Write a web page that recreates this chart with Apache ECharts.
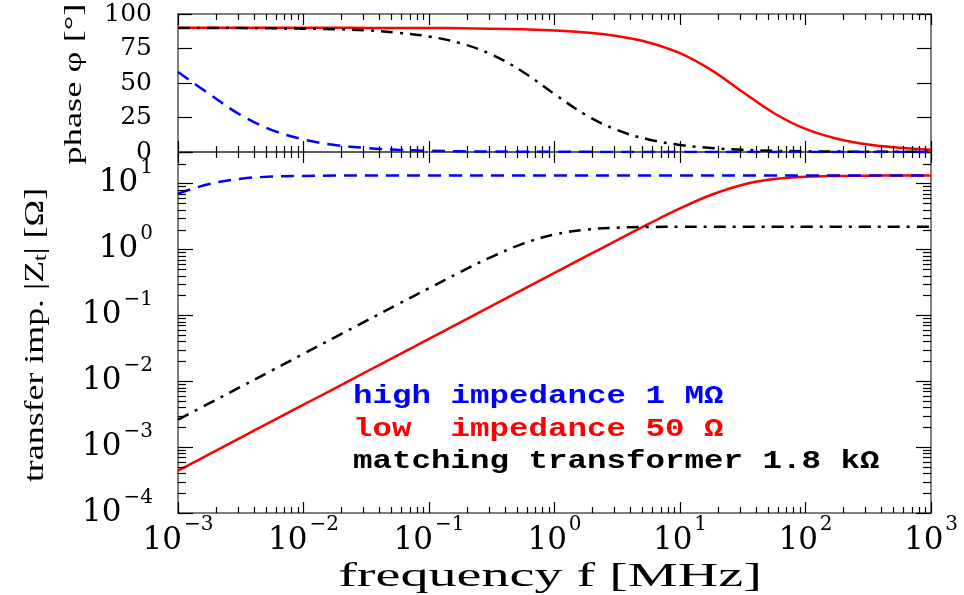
<!DOCTYPE html>
<html>
<head>
<meta charset="utf-8">
<script src="https://cdn.jsdelivr.net/npm/echarts@6/dist/echarts.min.js"></script>
<style>
  html, body { margin: 0; padding: 0; background: #fff; }
  #main { width: 964px; height: 595px; }
</style>
</head>
<body>
<div id="main"></div>
<script>
// frequency samples [MHz], quarter decades
var freq = [0.001, 0.00178, 0.00316, 0.00562, 0.01, 0.0178, 0.0316, 0.0562, 0.1, 0.178, 0.316, 0.562,
            1, 1.78, 3.16, 5.62, 10, 17.8, 31.6, 56.2, 100, 178, 316, 562, 1000];

// phase [deg]
var phaseHigh  = [58.0, 42.0, 26.8, 15.9, 9.1, 5.1, 2.9, 1.6, 0.9, 0.5, 0.3, 0.2, 0.1, 0.1, 0, 0, 0, 0, 0, 0, 0, 0, 0, 0, 0];
var phaseLow   = [90.0, 90.0, 90.0, 90.0, 90.0, 90.0, 89.9, 89.9, 89.8, 89.7, 89.4, 88.9, 88.1, 86.6, 84.0, 79.4,
                  71.6, 59.3, 43.5, 28.1, 16.7, 9.6, 5.4, 3.1, 1.7];
var phaseMatch = [89.9, 89.9, 89.8, 89.6, 89.4, 89.0, 88.2, 86.4, 83.7, 78.8, 70.6, 58.0, 42.0, 26.8, 15.9, 9.1,
                  5.1, 2.9, 1.6, 0.9, 0.5, 0.3, 0.2, 0.1, 0.1];

// transfer impedance |Zt| [Ohm]
var magHigh  = [7.0, 9.8, 11.8, 12.7, 13.0, 13.15, 13.2, 13.2, 13.2, 13.2, 13.2, 13.2, 13.2, 13.2, 13.2, 13.2,
                13.2, 13.2, 13.2, 13.2, 13.2, 13.2, 13.2, 13.2, 13.2];
var magLow   = [0.00044, 0.00078, 0.00139, 0.00247, 0.0044, 0.0078, 0.0139, 0.0247, 0.044, 0.078, 0.139, 0.247,
                0.44, 0.78, 1.38, 2.43, 4.17, 6.73, 9.58, 11.65, 12.64, 13.02, 13.14, 13.18, 13.19];
var magMatch = [0.0026, 0.00463, 0.00822, 0.0146, 0.026, 0.0463, 0.0822, 0.146, 0.258, 0.453, 0.77, 1.22,
                1.68, 1.99, 2.13, 2.185, 2.2, 2.21, 2.21, 2.21, 2.21, 2.21, 2.21, 2.21, 2.21];

var phaseTicks = [0, 25, 50, 75, 100];

var legendLines = ['high impedance 1 MΩ', 'low  impedance 50 Ω', 'matching transformer 1.8 kΩ'];

function pairs(ys) {
    return freq.map(function (f, i) { return [f, ys[i]]; });
}

var SERIF = 'DejaVu Serif';
var frameColor = '#555';
var tickColor = '#000';

function powLabel(v) {
    var e = Math.log10(v);
    var r = Math.round(e);
    if (Math.abs(e - r) > 1e-6) return '';
    return '{b|10}{s|' + String(r).replace('-', '\u2212') + '}';
}
var powRich = {
    b: { fontFamily: SERIF, fontSize: 31, color: '#000', padding: [10, 0, 10, 0] },
    s: { fontFamily: SERIF, fontSize: 20, color: '#000', verticalAlign: 'top', padding: [0, 0, 0, 2] }
};

// minor log ticks (2..9 per decade)
function minorValues(d0, d1, maxV) {
    var out = [];
    for (var d = d0; d < d1; d++) {
        for (var m = 2; m <= 9; m++) {
            var v = m * Math.pow(10, d);
            if (v < maxV) out.push(v);
        }
    }
    return out;
}
var xMinor = minorValues(-3, 3, 1000);
var yMinor = minorValues(-4, 2, 30);

function tickRenderer(yRef, withY) {
    return function (params, api) {
        var cs = params.coordSys;
        var kids = [];
        var st = { stroke: tickColor, lineWidth: 1.2 };
        xMinor.forEach(function (v) {
            var px = Math.round(api.coord([v, yRef])[0]) + 0.5;
            kids.push({ type: 'line', shape: { x1: px, y1: cs.y, x2: px, y2: cs.y + 6 }, style: st });
            kids.push({ type: 'line', shape: { x1: px, y1: cs.y + cs.height, x2: px, y2: cs.y + cs.height - 6 }, style: st });
        });
        if (withY) {
            yMinor.forEach(function (v) {
                var py = Math.round(api.coord([1, v])[1]) + 0.5;
                kids.push({ type: 'line', shape: { x1: cs.x, y1: py, x2: cs.x + 8, y2: py }, style: st });
                kids.push({ type: 'line', shape: { x1: cs.x + cs.width, y1: py, x2: cs.x + cs.width - 8, y2: py }, style: st });
            });
        }
        return { type: 'group', children: kids };
    };
}

function xAxisDef(grid, pos, labels) {
    return {
        type: 'log', logBase: 10, gridIndex: grid, position: pos,
        min: 0.001, max: 1000, splitNumber: 6,
        axisLine: { show: true, onZero: false, lineStyle: { color: frameColor, width: 1.5 } },
        axisTick: { show: true, inside: true, length: 11, lineStyle: { color: tickColor, width: 1.2 } },
        axisLabel: labels ? { show: true, formatter: powLabel, rich: powRich, margin: 2 } : { show: false },
        splitLine: { show: false }
    };
}

function yAxisDef(grid, pos, isLog, labels) {
    var a = {
        type: isLog ? 'log' : 'value', gridIndex: grid, position: pos,
        axisLine: { show: true, lineStyle: { color: frameColor, width: 1.5 } },
        axisTick: { show: true, inside: true, length: isLog ? 15 : 14, lineStyle: { color: tickColor, width: 1.2 } },
        axisLabel: { show: false },
        splitLine: { show: false }
    };
    if (isLog) {
        a.logBase = 10; a.min = 0.0001; a.max = 30; a.splitNumber = 5;
        if (labels) a.axisLabel = { margin: 25, formatter: powLabel, rich: powRich };
    } else {
        a.min = 0; a.max = 100; a.interval = 25;
        if (labels) a.axisLabel = {
            margin: 26, fontFamily: SERIF, fontSize: 25, color: '#000',
            formatter: function (v) { return phaseTicks.indexOf(v) >= 0 ? String(v) : ''; }
        };
    }
    return a;
}

var myChart = echarts.init(document.getElementById('main'));
var option = {
    animation: false,
    backgroundColor: '#fff',
    grid: [
        { left: 178, right: 33, top: 14, height: 138 },
        { left: 178, right: 33, top: 152, height: 361 }
    ],
    xAxis: [
        xAxisDef(0, 'bottom', false),
        xAxisDef(0, 'top', false),
        xAxisDef(1, 'bottom', true),
        xAxisDef(1, 'top', false)
    ],
    yAxis: [
        yAxisDef(0, 'left', false, true),
        yAxisDef(0, 'right', false, false),
        yAxisDef(1, 'left', true, true),
        yAxisDef(1, 'right', true, false)
    ],
    series: [
        { type: 'custom', xAxisIndex: 0, yAxisIndex: 0, data: [[1, 50]], renderItem: tickRenderer(50, false), silent: true, clip: false, z: 5 },
        { type: 'custom', xAxisIndex: 2, yAxisIndex: 2, data: [[1, 1]], renderItem: tickRenderer(1, true), silent: true, clip: false, z: 5 },

        { name: 'phase low', type: 'line', xAxisIndex: 0, yAxisIndex: 0, data: pairs(phaseLow), smooth: 0.4, showSymbol: false,
          lineStyle: { color: '#ff0000', width: 2.5 } },
        { name: 'phase match', type: 'line', xAxisIndex: 0, yAxisIndex: 0, data: pairs(phaseMatch), smooth: 0.4, showSymbol: false,
          lineStyle: { color: '#000', width: 2.5, type: [12, 7, 3, 7] } },
        { name: 'phase high', type: 'line', xAxisIndex: 0, yAxisIndex: 0, data: pairs(phaseHigh), smooth: 0.4, showSymbol: false,
          lineStyle: { color: '#0000ff', width: 2.5, type: [13, 8] } },

        { name: 'mag low', type: 'line', xAxisIndex: 2, yAxisIndex: 2, data: pairs(magLow), smooth: 0.4, showSymbol: false,
          lineStyle: { color: '#ff0000', width: 2.5 } },
        { name: 'mag match', type: 'line', xAxisIndex: 2, yAxisIndex: 2, data: pairs(magMatch), smooth: 0.4, showSymbol: false,
          lineStyle: { color: '#000', width: 2.5, type: [12, 7, 3, 7] } },
        { name: 'mag high', type: 'line', xAxisIndex: 2, yAxisIndex: 2, data: pairs(magHigh), smooth: 0.4, showSymbol: false,
          lineStyle: { color: '#0000ff', width: 2.5, type: [13, 8] } }
    ],
    graphic: [
        { type: 'text', x: 74, y: 84, rotation: Math.PI / 2, scaleX: 1.4,
          style: { text: 'phase φ [°]', font: '26px "Liberation Serif"', fill: '#000', align: 'center', verticalAlign: 'middle' } },
        { type: 'text', x: 36, y: 335, rotation: Math.PI / 2, scaleX: 1.28,
          style: { text: 'transfer imp. |Z{sub|t}| [Ω]', font: '28px "Liberation Serif"', fill: '#000', align: 'center', verticalAlign: 'middle',
                   rich: { sub: { fontFamily: 'Liberation Serif', fontSize: 18, verticalAlign: 'bottom', padding: [8, 0, 0, 0] } } } },
        { type: 'text', x: 550, y: 577, scaleX: 1.65,
          style: { text: 'frequency f [MHz]', font: '34px "Liberation Serif"', fill: '#000', align: 'center', verticalAlign: 'middle' } },
        { type: 'text', x: 353, y: 397, scaleX: 1.3,
          style: { text: legendLines[0], font: 'bold 25px "Liberation Mono"', fill: '#0000ff', align: 'left', verticalAlign: 'middle' } },
        { type: 'text', x: 353, y: 430, scaleX: 1.3,
          style: { text: legendLines[1], font: 'bold 25px "Liberation Mono"', fill: '#ff0000', align: 'left', verticalAlign: 'middle' } },
        { type: 'text', x: 353, y: 462, scaleX: 1.3,
          style: { text: legendLines[2], font: 'bold 25px "Liberation Mono"', fill: '#000', align: 'left', verticalAlign: 'middle' } }
    ]
};
myChart.setOption(option);
</script>
</body>
</html>
